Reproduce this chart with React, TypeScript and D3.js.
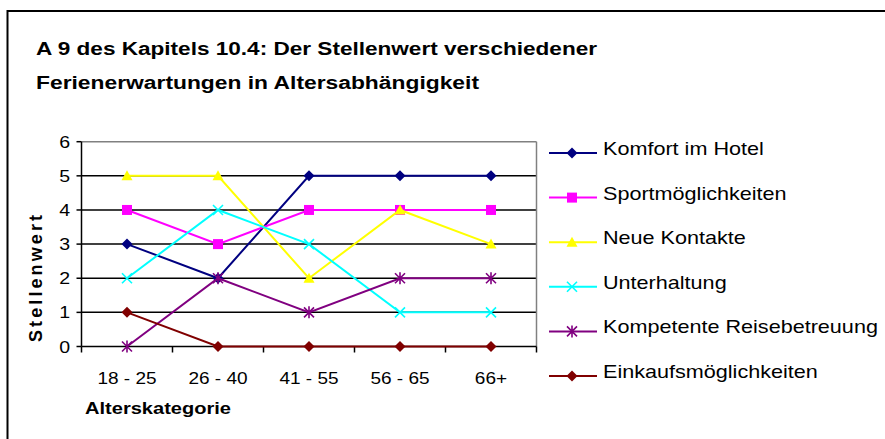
import React from 'react';
import * as d3 from 'd3';

const categories = ['18 - 25', '26 - 40', '41 - 55', '56 - 65', '66+'];
const seriesNames = [
  'Komfort im Hotel',
  'Sportmöglichkeiten',
  'Neue Kontakte',
  'Unterhaltung',
  'Kompetente Reisebetreuung',
  'Einkaufsmöglichkeiten',
];
const komfort = [3, 2, 5, 5, 5];
const sport = [4, 3, 4, 4, 4];
const kontakte = [5, 5, 2, 4, 3];
const unterhaltung = [2, 4, 3, 1, 1];
const betreuung = [0, 2, 1, 2, 2];
const einkauf = [1, 0, 0, 0, 0];
const yTicks = [0, 1, 2, 3, 4, 5, 6];

const seriesValues = [komfort, sport, kontakte, unterhaltung, betreuung, einkauf];
const colors = ['#000080', '#ff00ff', '#ffff00', '#00ffff', '#800080', '#800000'];
const shapes = ['diamond', 'square', 'triangle', 'x', 'star', 'diamond'];

const W = 885;
const H = 439;
const plot = { left: 81.5, right: 536.5, top: 141.7, bottom: 346.5 };

const Marker: React.FC<{ shape: string; x: number; y: number; color: string }> = ({ shape, x, y, color }) => {
  const s = 5.5;
  if (shape === 'diamond') {
    return <path d={`M${x},${y - s}L${x + s},${y}L${x},${y + s}L${x - s},${y}Z`} fill={color} />;
  }
  if (shape === 'square') {
    return <rect x={x - 5} y={y - 5} width={10} height={10} fill={color} />;
  }
  if (shape === 'triangle') {
    return <path d={`M${x},${y - 5.5}L${x + 5.5},${y + 4.5}L${x - 5.5},${y + 4.5}Z`} fill={color} />;
  }
  if (shape === 'x') {
    return <path d={`M${x - 5},${y - 5}L${x + 5},${y + 5}M${x + 5},${y - 5}L${x - 5},${y + 5}`} stroke={color} strokeWidth={1.6} />;
  }
  // asterisk
  return (
    <path
      d={`M${x - 5},${y - 5}L${x + 5},${y + 5}M${x + 5},${y - 5}L${x - 5},${y + 5}M${x},${y - 6}L${x},${y + 6}`}
      stroke={color}
      strokeWidth={1.6}
    />
  );
};

// the source picture is stretched sideways a little, so text gets a horizontal scale
const Wide: React.FC<{ x: number; y: number; sx: number; anchor?: string; size: number; children: React.ReactNode }> = ({
  x,
  y,
  sx,
  anchor,
  size,
  children,
}) => (
  <g transform={`translate(${x},${y}) scale(${sx},1)`}>
    <text textAnchor={anchor || 'start'} fontSize={size}>
      {children}
    </text>
  </g>
);

const App: React.FC = () => {
  const x = d3.scaleBand<string>().domain(categories).range([plot.left, plot.right]);
  const y = d3.scaleLinear().domain([0, 6]).range([plot.bottom, plot.top]);
  const cx = (c: string) => (x(c) as number) + x.bandwidth() / 2;
  const line = d3
    .line<number>()
    .x((_, i) => cx(categories[i]))
    .y(d => y(d));

  const boundaries = categories.map(c => x(c) as number).concat([plot.right]);
  const legendY = d3.scaleLinear().domain([0, 5]).range([153, 376]);
  const font = 'Arial, "Liberation Sans", sans-serif';

  return (
    <svg width={W} height={H} style={{ position: 'absolute', left: 0, top: 0, background: '#fff' }} fontFamily={font}>
      <rect x={7.5} y={11} width={900} height={450} fill="#fff" stroke="#000" strokeWidth={2} />

      <text x={36} y={55} fontSize={18} fontWeight="bold" textLength={561} lengthAdjust="spacingAndGlyphs">
        A 9 des Kapitels 10.4: Der Stellenwert verschiedener
      </text>
      <text x={36} y={88.5} fontSize={18} fontWeight="bold" textLength={443} lengthAdjust="spacingAndGlyphs">
        Ferienerwartungen in Altersabhängigkeit
      </text>

      {/* gridlines */}
      {yTicks.filter(t => t > 0 && t < 6).map(t => (
        <line key={t} x1={plot.left} x2={plot.right} y1={y(t)} y2={y(t)} stroke="#000" strokeWidth={1.5} />
      ))}
      <line x1={plot.left} x2={plot.right} y1={y(6)} y2={y(6)} stroke="#808080" strokeWidth={1.5} />
      <line x1={plot.right} x2={plot.right} y1={y(6)} y2={y(0)} stroke="#808080" strokeWidth={1.5} />

      {/* axes */}
      <line x1={plot.left} x2={plot.left} y1={y(6)} y2={y(0)} stroke="#000" strokeWidth={1.5} />
      <line x1={plot.left} x2={plot.right} y1={y(0)} y2={y(0)} stroke="#000" strokeWidth={1.5} />
      {yTicks.map(t => (
        <g key={t}>
          <line x1={plot.left - 5} x2={plot.left} y1={y(t)} y2={y(t)} stroke="#000" strokeWidth={1.5} />
          <Wide x={70} y={y(t) + 6} sx={1.15} anchor="end" size={17}>
            {t}
          </Wide>
        </g>
      ))}
      {boundaries.map((b, i) => (
        <line key={i} x1={b} x2={b} y1={y(0)} y2={y(0) + 6} stroke="#000" strokeWidth={1.5} />
      ))}
      {categories.map(c => (
        <Wide key={c} x={cx(c)} y={384} sx={1.12} anchor="middle" size={17}>
          {c}
        </Wide>
      ))}
      <text x={85} y={414} fontSize={16.5} fontWeight="bold" textLength={146} lengthAdjust="spacingAndGlyphs">
        Alterskategorie
      </text>
      <text
        transform="translate(41.5,278.5) rotate(-90)"
        textAnchor="middle"
        fontSize={18}
        fontWeight="bold"
        textLength={127}
        lengthAdjust="spacing"
      >
        Stellenwert
      </text>

      {/* series */}
      {seriesValues.map((vals, si) => (
        <g key={si}>
          <path d={line(vals) as string} fill="none" stroke={colors[si]} strokeWidth={2} />
          {vals.map((v, i) => (
            <Marker key={i} shape={shapes[si]} x={cx(categories[i])} y={y(v)} color={colors[si]} />
          ))}
        </g>
      ))}

      {/* legend */}
      {seriesNames.map((n, i) => (
        <g key={n}>
          <line x1={549} x2={597} y1={legendY(i)} y2={legendY(i)} stroke={colors[i]} strokeWidth={2} />
          <Marker shape={shapes[i]} x={572} y={legendY(i)} color={colors[i]} />
          <Wide x={603} y={legendY(i) + 2} sx={1.2} size={18}>
            {n}
          </Wide>
        </g>
      ))}
    </svg>
  );
};

export default App;
